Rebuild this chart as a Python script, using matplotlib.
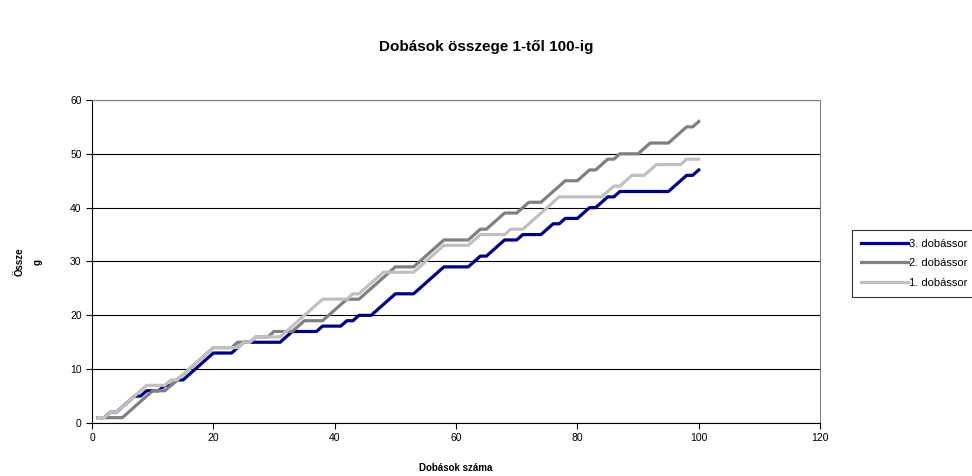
import matplotlib
matplotlib.use("Agg")
import matplotlib.pyplot as plt
import numpy as np

plt.rcParams["font.family"] = ["Liberation Sans", "DejaVu Sans"]

# ── Data (cumulative sums) ────────────────────────────────────────────────
throws = list(range(1, 101))

series3 = [1, 1, 2, 2, 3, 4, 5, 5, 6, 6, 6, 7, 7, 8, 8, 9, 10, 11, 12, 13,
           13, 13, 13, 14, 15, 15, 15, 15, 15, 15, 15, 16, 17, 17, 17, 17, 17, 18, 18, 18,
           18, 19, 19, 20, 20, 20, 21, 22, 23, 24, 24, 24, 24, 25, 26, 27, 28, 29, 29, 29,
           29, 29, 30, 31, 31, 32, 33, 34, 34, 34, 35, 35, 35, 35, 36, 37, 37, 38, 38, 38,
           39, 40, 40, 41, 42, 42, 43, 43, 43, 43, 43, 43, 43, 43, 43, 44, 45, 46, 46, 47]

series2 = [1, 1, 1, 1, 1, 2, 3, 4, 5, 6, 6, 6, 7, 8, 9, 10, 11, 12, 13, 14,
           14, 14, 14, 15, 15, 15, 16, 16, 16, 17, 17, 17, 17, 18, 19, 19, 19, 19, 20, 21,
           22, 23, 23, 23, 24, 25, 26, 27, 28, 29, 29, 29, 29, 30, 31, 32, 33, 34, 34, 34,
           34, 34, 35, 36, 36, 37, 38, 39, 39, 39, 40, 41, 41, 41, 42, 43, 44, 45, 45, 45,
           46, 47, 47, 48, 49, 49, 50, 50, 50, 50, 51, 52, 52, 52, 52, 53, 54, 55, 55, 56]

series1 = [1, 1, 2, 2, 3, 4, 5, 6, 7, 7, 7, 7, 8, 8, 9, 10, 11, 12, 13, 14,
           14, 14, 14, 14, 15, 15, 16, 16, 16, 16, 16, 17, 18, 19, 20, 21, 22, 23, 23, 23,
           23, 23, 24, 24, 25, 26, 27, 28, 28, 28, 28, 28, 28, 29, 30, 31, 32, 33, 33, 33,
           33, 33, 34, 35, 35, 35, 35, 35, 36, 36, 36, 37, 38, 39, 40, 41, 42, 42, 42, 42,
           42, 42, 42, 42, 43, 44, 44, 45, 46, 46, 46, 47, 48, 48, 48, 48, 48, 49, 49, 49]

labels = ["3. dobássor", "2. dobássor", "1. dobássor"]
colors = ["#000080", "#808080", "#C0C0C0"]

# ── Figure ────────────────────────────────────────────────────────────────
fig = plt.figure(figsize=(9.72, 4.76), dpi=100, facecolor="white")
ax = fig.add_axes([0.0947, 0.1113, 0.749, 0.6787])

for ys, lab, col in zip([series3, series2, series1], labels, colors):
    ax.plot(throws, ys, color=col, linewidth=2.3, label=lab,
            solid_joinstyle="round")

ax.set_xlim(0, 120)
ax.set_ylim(0, 60)
ax.set_xticks(np.arange(0, 121, 20))
ax.set_yticks(np.arange(0, 61, 10))
ax.tick_params(labelsize=7.5, length=4, width=0.8, direction="out",
               colors="black")
ax.grid(axis="y", color="black", linewidth=0.8)
ax.set_axisbelow(True)
for side in ["top", "right"]:
    ax.spines[side].set_color("#808080")
    ax.spines[side].set_linewidth(0.8)
for side in ["left", "bottom"]:
    ax.spines[side].set_color("black")
    ax.spines[side].set_linewidth(0.8)

ax.set_xlabel("Dobások száma", fontsize=7, fontweight="bold", labelpad=20)
ax.xaxis.set_label_coords(0.5, -0.125)
fig.text(0.029, 0.45, "Össze\ng", rotation=90, fontsize=7, fontweight="bold",
         ha="center", va="center", multialignment="center", linespacing=2.0)

fig.suptitle("Dobások összege 1-től 100-ig", x=0.5, y=0.915,
             fontsize=11, fontweight="bold")

leg = fig.legend(loc="upper left", bbox_to_anchor=(0.877, 0.517),
                 fontsize=8, frameon=True, fancybox=False,
                 edgecolor="black", handlelength=4.2, handletextpad=0.1,
                 borderpad=0.8, labelspacing=0.85, borderaxespad=0)
leg.get_frame().set_linewidth(0.8)

fig.savefig("out.png", dpi=100, facecolor="white")
